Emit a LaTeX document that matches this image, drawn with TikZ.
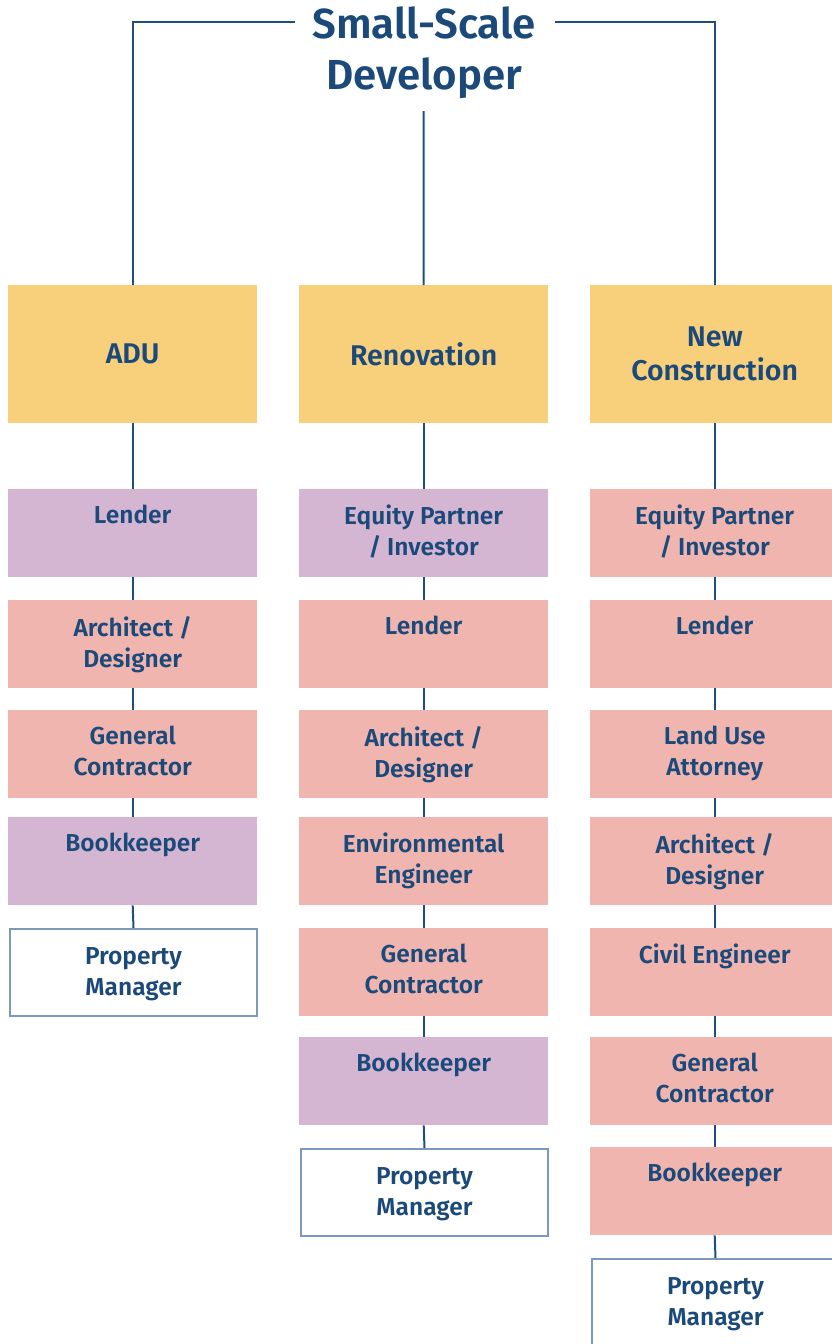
\documentclass[tikz,border=0pt]{standalone}
\usepackage{fontspec}
\setmainfont{Fira Sans}[BoldFont={Fira Sans SemiBold}]
\begin{document}
\definecolor{cyel}{HTML}{F8D07C}
\definecolor{cpur}{HTML}{D4B6D3}
\definecolor{cpin}{HTML}{F0B5AF}
\definecolor{ctxt}{HTML}{1B4A7A}
\definecolor{cline}{HTML}{1F4E7E}
\definecolor{cbord}{HTML}{7B9ABA}
\begin{tikzpicture}[x=1pt,y=-1pt,
  box/.style={anchor=north west,inner sep=0pt,minimum width=249pt,minimum height=88pt},
  head/.style={box,fill=cyel,minimum height=138pt,text=ctxt,font=\fontsize{28.5}{34}\selectfont\bfseries,align=center},
  pur/.style={box,fill=cpur},
  pin/.style={box,fill=cpin},
  pm/.style={box,fill=white,draw=cbord,line width=2pt},
  lbl/.style={anchor=north,inner sep=0pt,text=ctxt,font=\fontsize{24.5}{31}\selectfont\bfseries,align=center},
  conn/.style={draw=cline,line width=2pt}]
\useasboundingbox (0,0) rectangle (832,1344);
\newcommand\bx[6]{%
  \node[#4] (#1) at (#2,#3) {};
  \node[lbl] (#1-t) at ([yshift=-#6pt]#1.north) {#5};}
% title
\node[text=ctxt,font=\fontsize{42}{51}\selectfont\bfseries,align=center,inner sep=0pt] (title) at (424,53) {Small-Scale\\Developer};
\coordinate (tl) at (295,22);
\coordinate (tr) at (555,22);
\coordinate (tc) at (423.5,111);
% headers
\node[head] (adu) at (8,285) {ADU};
\node[head] (ren) at (299,285) {Renovation};
\node[head] (nc) at (590,285) {New\\Construction};
% column 1
\bx{a1}{8}{489}{pur}{Lender}{16}
\bx{a2}{8}{600}{pin}{Architect /\\Designer}{16}
\bx{a3}{8}{710}{pin}{General\\Contractor}{16}
\bx{a4}{8}{817}{pur}{Bookkeeper}{16}
\bx{a5}{9}{928}{pm,minimum width=247pt,minimum height=87pt}{Property\\Manager}{19}
% column 2
\bx{b1}{299}{489}{pur}{Equity Partner\\/ Investor}{16}
\bx{b2}{299}{600}{pin}{Lender}{16}
\bx{b3}{299}{710}{pin}{Architect /\\Designer}{16}
\bx{b4}{299}{817}{pin}{Environmental\\Engineer}{16}
\bx{b5}{299}{928}{pin}{General\\Contractor}{16}
\bx{b6}{299}{1037}{pur}{Bookkeeper}{16}
\bx{b7}{300}{1148}{pm,minimum width=247pt,minimum height=87pt}{Property\\Manager}{19}
% column 3
\bx{c1}{590}{489}{pin}{Equity Partner\\/ Investor}{16}
\bx{c2}{590}{600}{pin}{Lender}{16}
\bx{c3}{590}{710}{pin}{Land Use\\Attorney}{16}
\bx{c4}{590}{817}{pin}{Architect /\\Designer}{16}
\bx{c5}{590}{928}{pin}{Civil Engineer}{16}
\bx{c6}{590}{1037}{pin}{General\\Contractor}{16}
\bx{c7}{590}{1147}{pin}{Bookkeeper}{16}
\bx{c8}{591}{1258}{pm,minimum width=247pt,minimum height=87pt}{Property\\Manager}{19}
% connectors
\draw[conn] (tl) -| (adu.north);
\draw[conn] (tr) -| (nc.north);
\draw[conn] (tc) -- (ren.north);
\foreach \u/\v in {adu/a1,a1/a2,a2/a3,a3/a4,a4/a5,
  ren/b1,b1/b2,b2/b3,b3/b4,b4/b5,b5/b6,b6/b7,
  nc/c1,c1/c2,c2/c3,c3/c4,c4/c5,c5/c6,c6/c7,c7/c8}
  \draw[conn] (\u.south) -- (\v.north);
\end{tikzpicture}
\end{document}
